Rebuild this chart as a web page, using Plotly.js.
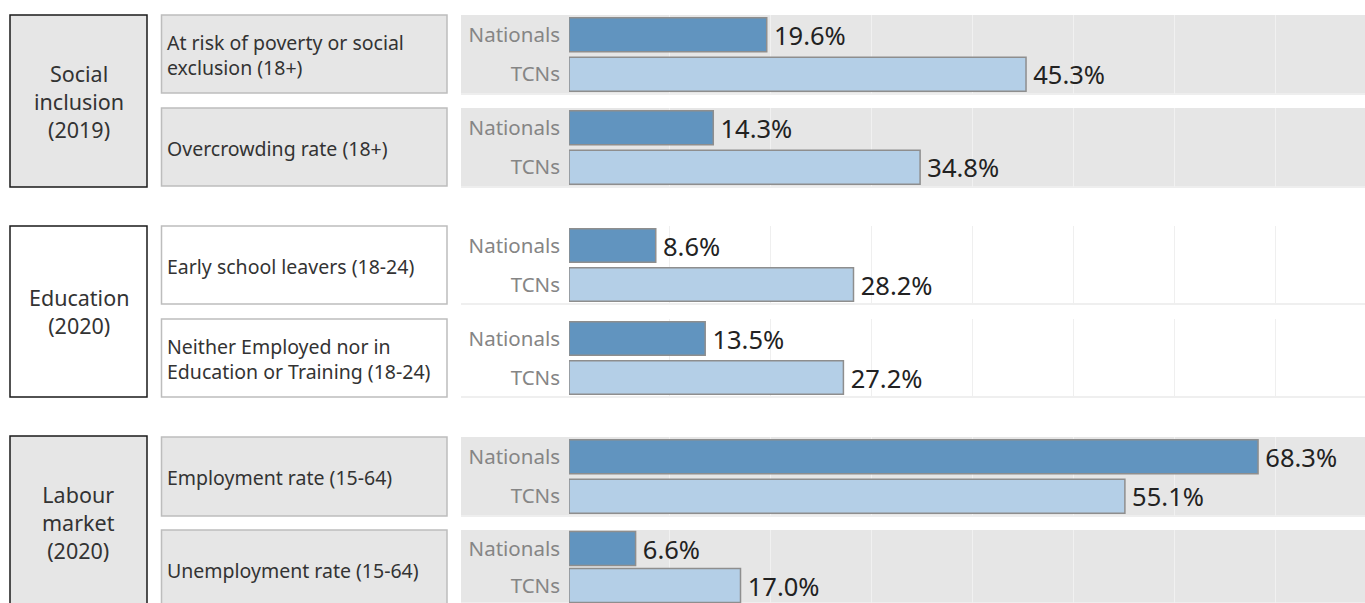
<!DOCTYPE html>
<html>
<head>
<meta charset="utf-8">
<script src="https://cdn.plot.ly/plotly-3.0.1.min.js"></script>
<style>html,body{margin:0;padding:0;background:#fff;}#chart{width:1365px;height:603px;}</style>
</head>
<body>
<div id="chart"></div>
<script>
// ---- data ----
const categories = ['Nationals', 'TCNs'];
const groups = ['Social<br>inclusion<br>(2019)', 'Education<br>(2020)', 'Labour<br>market<br>(2020)'];
const indicators = [
  'At risk of poverty or social<br>exclusion (18+)',
  'Overcrowding rate (18+)',
  'Early school leavers (18-24)',
  'Neither Employed nor in<br>Education or Training (18-24)',
  'Employment rate (15-64)',
  'Unemployment rate (15-64)'
];
const nationals = [19.6, 14.3, 8.6, 13.5, 68.3, 6.6];
const tcns = [45.3, 34.8, 28.2, 27.2, 55.1, 17.0];

// ---- layout geometry (pixels) ----
const W = 1365, H = 603;
const px = v => v / W;
const py = v => 1 - v / H;
const panels = [[15, 94], [108, 187], [226, 304], [319, 397], [437, 516], [530, 603]];
const bandPx = [39.5, 39.5, 39, 39, 39.5, 37];
const barWidth = [0.86, 0.86, 0.86, 0.86, 0.86, 0.92];
const groupBoxes = [[15, 187], [226, 397], [436, 640]];
const rowBoxes = [[15, 93], [108, 186], [226, 304], [319, 397], [437, 516], [530, 640]];
const groupShaded = [true, false, true];
const rowShaded = [true, true, false, false, true, true];

const colNat = '#6194bf', colTcn = '#b4cfe7';
const FONT = 'Noto Sans, sans-serif';
const traces = [];
const layout = {
  width: W, height: H,
  margin: {l: 0, r: 0, t: 0, b: 0, pad: 0},
  paper_bgcolor: '#ffffff',
  plot_bgcolor: 'rgba(0,0,0,0)',
  showlegend: false,
  font: {family: FONT},
  shapes: [], annotations: []
};

panels.forEach((p, i) => {
  const n = i + 1;
  const sfx = n === 1 ? '' : String(n);
  const xa = 'x' + sfx, ya = 'y' + sfx;
  traces.push({
    type: 'bar', orientation: 'h',
    x: [nationals[i], tcns[i]], y: categories,
    xaxis: xa, yaxis: ya,
    width: barWidth[i],
    marker: {color: [colNat, colTcn], line: {color: '#8e8e8e', width: 1.5}},
    texttemplate: '\u2009%{x:.1f}%', textposition: 'outside', cliponaxis: false,
    constraintext: 'none',
    outsidetextfont: {size: 25.5, color: '#222222', family: FONT},
    hoverinfo: 'skip'
  });
  const shaded = rowShaded[i];
  const units = (p[1] - p[0]) / bandPx[i];
  layout['xaxis' + sfx] = {
    domain: [px(569), 1], anchor: ya, range: [0, 78.9],
    tick0: 0, dtick: 10, showticklabels: false, ticks: '',
    showgrid: true, gridcolor: shaded ? '#f1f1f1' : '#efefef', gridwidth: 1,
    zeroline: false, showline: false, fixedrange: true
  };
  layout['yaxis' + sfx] = {
    domain: [py(p[1]), py(p[0])], anchor: xa, type: 'category',
    range: [-0.5 + units, -0.5],
    showgrid: false, zeroline: false, showline: false, ticks: '',
    ticklabelstandoff: 8,
    tickfont: {size: 20.5, color: '#858585', family: FONT},
    fixedrange: true
  };
  // panel background
  layout.shapes.push({
    type: 'rect', xref: 'paper', yref: 'paper', layer: 'below',
    x0: px(461), x1: 1, y0: py(p[1]), y1: py(p[0]),
    fillcolor: shaded ? '#e6e6e6' : '#ffffff', line: {width: 0}
  });
  layout.shapes.push({
    type: 'line', xref: 'paper', yref: 'paper', layer: 'below',
    x0: px(461), x1: 1, y0: py(p[1]), y1: py(p[1]),
    line: {color: shaded ? '#eeeeee' : '#efefef', width: 2}
  });
  // row header box
  const r = rowBoxes[i];
  layout.shapes.push({
    type: 'rect', xref: 'paper', yref: 'paper', layer: 'below',
    x0: px(161.5), x1: px(447), y0: py(r[1]), y1: py(r[0]),
    fillcolor: shaded ? '#e6e6e6' : '#ffffff', line: {color: '#bdbdbd', width: 1.5}
  });
  layout.annotations.push({
    xref: 'paper', yref: 'paper', x: px(165), y: py((r[0] + Math.min(r[1], r[0] + 79)) / 2 + 1),
    xanchor: 'left', yanchor: 'middle', align: 'left', showarrow: false,
    text: indicators[i], font: {size: 19.5, color: '#333333', family: FONT}
  });
});

groupBoxes.forEach((g, j) => {
  layout.shapes.push({
    type: 'rect', xref: 'paper', yref: 'paper', layer: 'below',
    x0: px(10), x1: px(147), y0: py(g[1]), y1: py(g[0]),
    fillcolor: groupShaded[j] ? '#e6e6e6' : '#ffffff', line: {color: '#1a1a1a', width: 1.5}
  });
  const center = j === 2 ? 522 : (g[0] + g[1]) / 2;
  layout.annotations.push({
    xref: 'paper', yref: 'paper', x: px(78.5), y: py(center),
    xanchor: 'center', yanchor: 'middle', align: 'center', showarrow: false,
    text: groups[j], font: {size: 21.5, color: '#333333', family: FONT}
  });
});

Plotly.newPlot('chart', traces, layout, {displayModeBar: false, staticPlot: true});
</script>
</body>
</html>
